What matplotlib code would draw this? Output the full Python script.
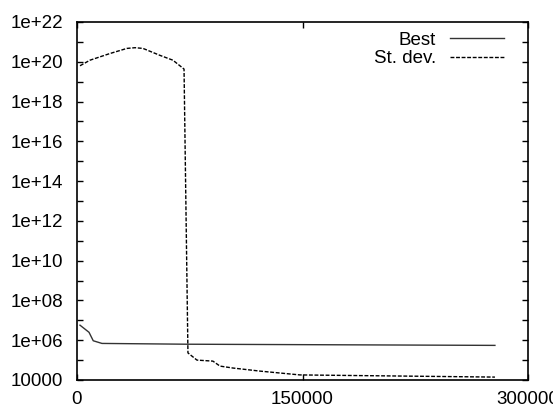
import numpy as np
import matplotlib.pyplot as plt

# Data (generation vs. value, log scale)
best_x = [2000, 8000, 10800, 16600, 73000, 278000]
best_y = [5.7e6, 2.5e6, 9.4e5, 6.9e5, 6.3e5, 5.5e5]

std_x = [2000, 8600, 21900, 33200, 38600, 43900, 55200, 63800, 71200,
         73800, 79800, 90400, 95100, 103700, 121700, 148300, 278000]
std_y = [6.3e19, 1.2e20, 2.6e20, 4.7e20, 5.1e20, 4.7e20, 2.1e20, 1.2e20, 4.3e19,
         2.3e5, 1.0e5, 8.9e4, 5.0e4, 4.0e4, 2.8e4, 1.8e4, 1.4e4]

x_ticks = [0, 150000, 300000]
x_labels = ['0', '150000', '300000']
y_exps = list(range(4, 23))
y_labels = ['10000' if k == 4 else ('1e+%02d' % k if k % 2 == 0 else '') for k in y_exps]

plt.rcParams['font.family'] = ['Liberation Sans', 'DejaVu Sans']

fig = plt.figure(figsize=(5.53, 4.08), dpi=100)
ax = fig.add_axes([77 / 553, 28 / 408, 451 / 553, 358 / 408])

ax.plot(best_x, best_y, color='#333333', lw=1.0, label='Best')
ax.plot(std_x, std_y, color='black', lw=1.0, dashes=(2.8, 1.2), label='St. dev.')

ax.set_yscale('log')
ax.set_xlim(0, 300000)
ax.set_ylim(1e4, 1e22)
ax.set_xticks(x_ticks)
ax.set_xticklabels(x_labels)
ax.set_yticks([10.0 ** k for k in y_exps])
ax.set_yticklabels(y_labels)
ax.minorticks_off()
ax.tick_params(direction='in', length=4, width=1, top=True, right=True,
               labelsize=13.5)
ax.tick_params(axis='y', pad=10)
ax.tick_params(axis='x', pad=8)
for s in ax.spines.values():
    s.set_linewidth(1.2)

ax.legend(loc='upper right', frameon=False, markerfirst=False, fontsize=13.5,
          handlelength=2.85, handletextpad=0.75, labelspacing=0.08,
          borderaxespad=0.0, bbox_to_anchor=(434 / 451, 1.0 - 2 / 358),
          bbox_transform=ax.transAxes)

fig.savefig('out.png', dpi=100)
